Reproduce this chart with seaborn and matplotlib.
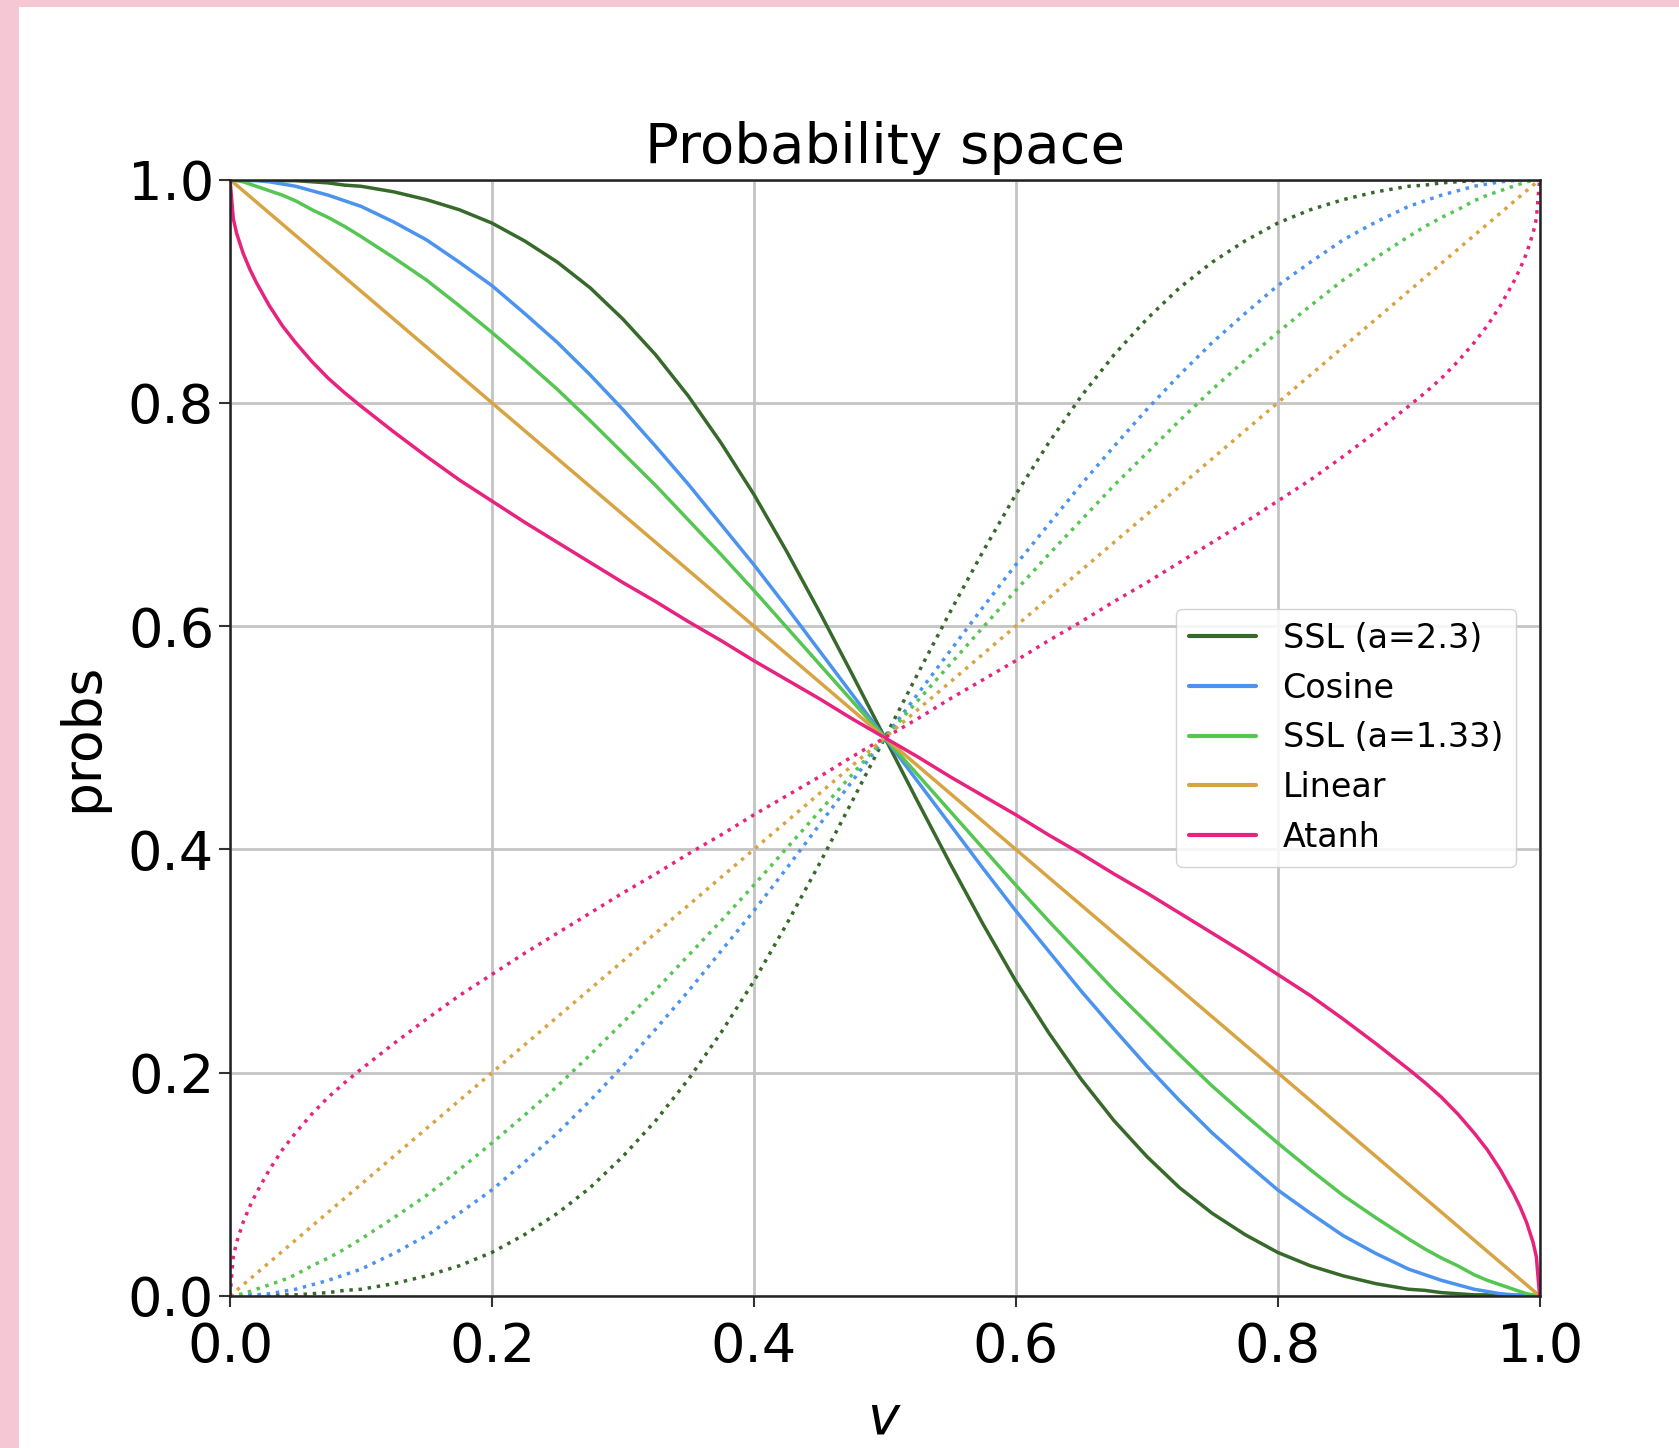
import numpy as np
import pandas as pd
import seaborn as sns
import matplotlib.pyplot as plt
from matplotlib.patches import Rectangle

# values (solid curves; dotted ones are 1 - probs)
v = [0, 0.0025, 0.005, 0.01, 0.015, 0.02, 0.03, 0.04, 0.05, 0.0625, 0.075, 0.0875, 0.1,
     0.125, 0.15, 0.175, 0.2, 0.225, 0.25, 0.275, 0.3, 0.325, 0.35, 0.375, 0.4, 0.425, 0.45, 0.475, 0.5,
     0.525, 0.55, 0.575, 0.6, 0.625, 0.65, 0.675, 0.7, 0.725, 0.75, 0.775, 0.8, 0.825, 0.85, 0.875, 0.9,
     0.9125, 0.925, 0.9375, 0.95, 0.96, 0.97, 0.98, 0.985, 0.99, 0.995, 0.9975, 1.0]

ssl_23 = [1.0, 1.0, 1.0, 1.0, 1.0, 1.0, 1.0, 0.999, 0.999, 0.998, 0.997, 0.995, 0.994,
          0.989, 0.982, 0.973, 0.961, 0.945, 0.926, 0.903, 0.875, 0.843, 0.806, 0.764, 0.718, 0.667, 0.613, 0.557, 0.5,
          0.443, 0.387, 0.333, 0.282, 0.236, 0.194, 0.157, 0.125, 0.097, 0.074, 0.055, 0.039, 0.027, 0.018, 0.011, 0.006,
          0.005, 0.003, 0.002, 0.001, 0.001, 0.0, 0.0, 0.0, 0.0, 0.0, 0.0, 0.0]
cosine = [1.0, 1.0, 1.0, 1.0, 0.999, 0.999, 0.998, 0.996, 0.994, 0.990, 0.986, 0.981, 0.976,
          0.962, 0.946, 0.926, 0.905, 0.880, 0.854, 0.825, 0.794, 0.761, 0.727, 0.691, 0.655, 0.617, 0.578, 0.539, 0.5,
          0.461, 0.422, 0.383, 0.345, 0.309, 0.273, 0.239, 0.206, 0.175, 0.146, 0.120, 0.095, 0.074, 0.054, 0.038, 0.024,
          0.019, 0.014, 0.010, 0.006, 0.004, 0.002, 0.001, 0.001, 0.0, 0.0, 0.0, 0.0]
ssl_133 = [1.0, 1.0, 0.999, 0.998, 0.996, 0.994, 0.990, 0.986, 0.981, 0.973, 0.966, 0.958, 0.949,
           0.930, 0.910, 0.887, 0.863, 0.838, 0.812, 0.784, 0.755, 0.726, 0.695, 0.664, 0.632, 0.599, 0.566, 0.533, 0.5,
           0.467, 0.434, 0.401, 0.368, 0.336, 0.305, 0.274, 0.245, 0.216, 0.188, 0.162, 0.137, 0.113, 0.090, 0.070, 0.051,
           0.042, 0.034, 0.027, 0.019, 0.014, 0.010, 0.006, 0.004, 0.002, 0.001, 0.0, 0.0]
linear = [1.0, 0.9975, 0.995, 0.99, 0.985, 0.98, 0.97, 0.96, 0.95, 0.9375, 0.925, 0.9125, 0.9,
          0.875, 0.85, 0.825, 0.8, 0.775, 0.75, 0.725, 0.7, 0.675, 0.65, 0.625, 0.6, 0.575, 0.55, 0.525, 0.5,
          0.475, 0.45, 0.425, 0.4, 0.375, 0.35, 0.325, 0.3, 0.275, 0.25, 0.225, 0.2, 0.175, 0.15, 0.125, 0.1,
          0.0875, 0.075, 0.0625, 0.05, 0.04, 0.03, 0.02, 0.015, 0.01, 0.005, 0.0025, 0.0]
atanh = [1.0, 0.965, 0.952, 0.934, 0.92, 0.908, 0.887, 0.869, 0.854, 0.837, 0.822, 0.809, 0.797,
         0.774, 0.752, 0.731, 0.712, 0.693, 0.675, 0.657, 0.639, 0.622, 0.604, 0.587, 0.569, 0.552, 0.535, 0.517, 0.5,
         0.483, 0.465, 0.448, 0.431, 0.413, 0.396, 0.378, 0.361, 0.343, 0.325, 0.307, 0.288, 0.269, 0.248, 0.226, 0.203,
         0.191, 0.178, 0.163, 0.146, 0.131, 0.113, 0.092, 0.08, 0.066, 0.048, 0.035, 0.0]

names = ['SSL (a=2.3)', 'Cosine', 'SSL (a=1.33)', 'Linear', 'Atanh']
series = [ssl_23, cosine, ssl_133, linear, atanh]
colors = ['#37692a', '#4b93ee', '#56c652', '#d8a443', '#e8237f']

frames = []
for name, vals in zip(names, series):
    frames.append(pd.DataFrame({'v': v, 'probs': vals, 'method': name}))
df = pd.concat(frames, ignore_index=True)
df['comp'] = 1 - df['probs']

sns.set_theme(style='ticks')
plt.rcParams['font.family'] = ['DejaVu Sans']
plt.rcParams['text.color'] = 'black'
plt.rcParams['axes.labelcolor'] = 'black'
plt.rcParams['xtick.color'] = 'black'
plt.rcParams['ytick.color'] = 'black'

fig = plt.figure(figsize=(16.79, 14.48), dpi=100)
fig.patch.set_facecolor('#f5c6d4')
fig.add_artist(Rectangle((19 / 1679, 0), 1, (1448 - 7) / 1448, transform=fig.transFigure,
                         facecolor='white', edgecolor='none', zorder=0))
ax = fig.add_axes([0.137, 0.105, 0.78, 0.771])

pal = dict(zip(names, colors))
sns.lineplot(data=df, x='v', y='probs', hue='method', hue_order=names, palette=pal,
             estimator=None, sort=False, lw=2.5, ax=ax)
sns.lineplot(data=df, x='v', y='comp', hue='method', hue_order=names, palette=pal,
             estimator=None, sort=False, lw=2.5, linestyle=':', legend=False, ax=ax)

ax.set_xlim(0, 1)
ax.set_ylim(0, 1)
ax.set_xticks([0, 0.2, 0.4, 0.6, 0.8, 1.0])
ax.set_yticks([0, 0.2, 0.4, 0.6, 0.8, 1.0])
ax.grid(True, color='#c4c4c4', lw=2)
ax.tick_params(labelsize=39, length=8, width=1.5, color='#333333')
ax.tick_params(axis='x', pad=10)
for s in ax.spines.values():
    s.set_color('#222222')
    s.set_linewidth(1.8)

ax.set_title('Probability space', fontsize=40.5, pad=12)
ax.set_xlabel('$v$', fontsize=39, labelpad=14)
ax.set_ylabel('probs', fontsize=38.5, labelpad=14)

leg = ax.legend(loc='center right', fontsize=24, frameon=True, framealpha=0.85,
                edgecolor='#cccccc', borderaxespad=0.7)
for line in leg.get_lines():
    line.set_linewidth(3)

fig.savefig('out.png', dpi=100, facecolor=fig.get_facecolor())
